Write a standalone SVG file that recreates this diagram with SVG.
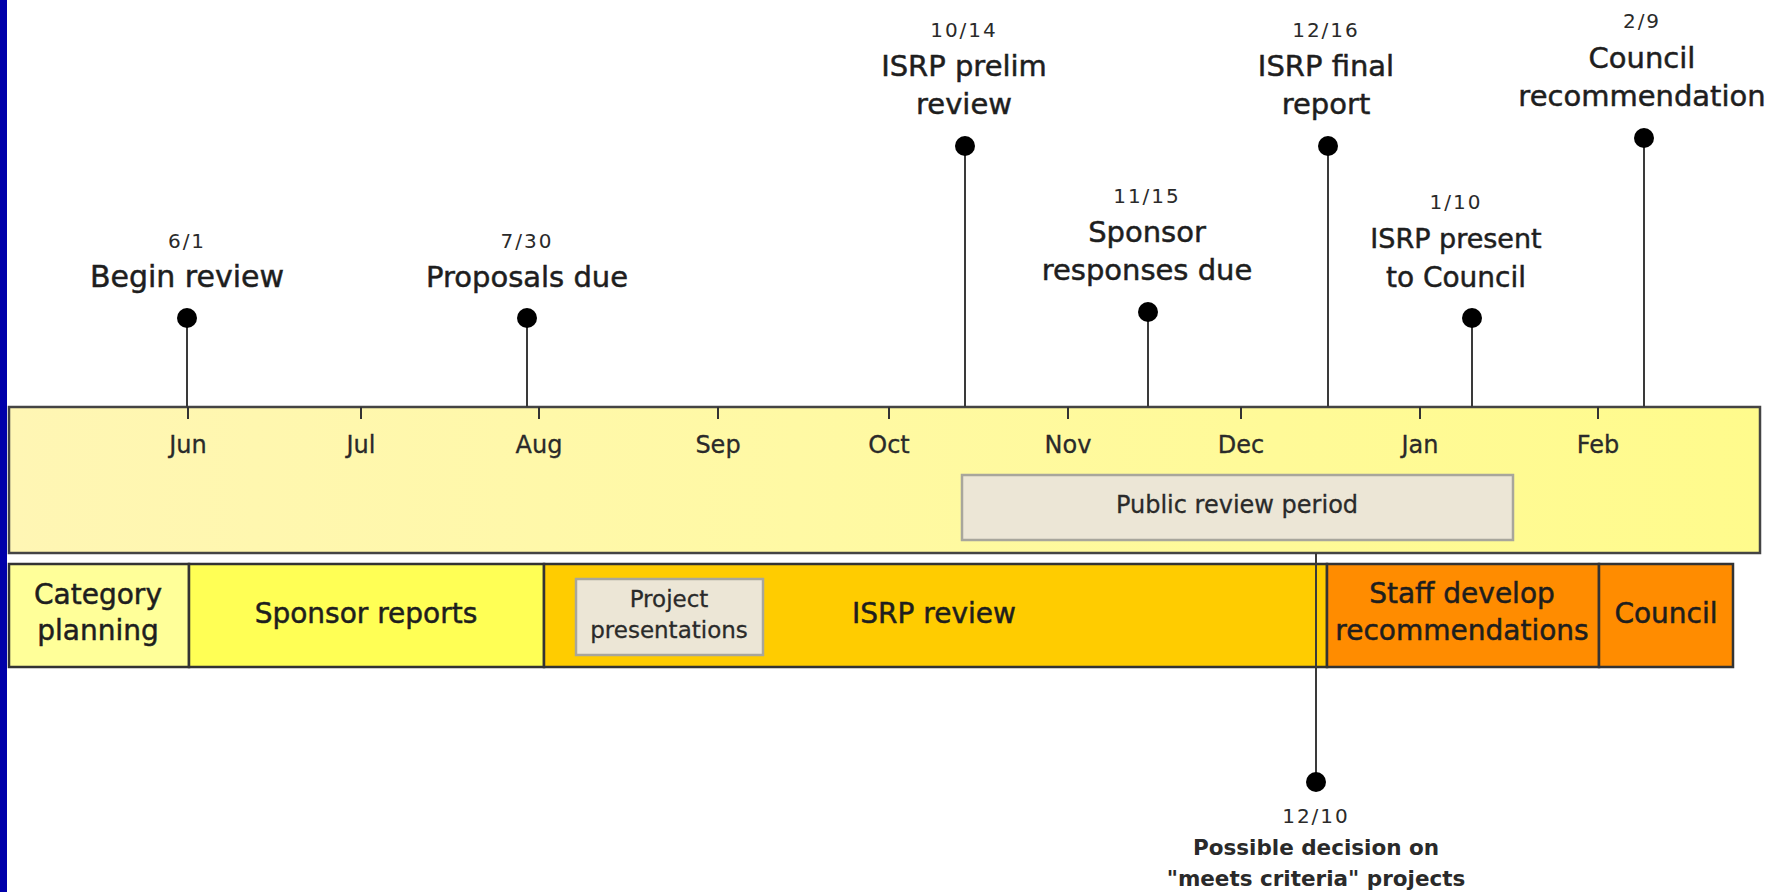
<svg xmlns="http://www.w3.org/2000/svg" width="1767" height="892" viewBox="0 0 1767 892">
<style>
  text { font-family: "DejaVu Sans", "Liberation Sans", sans-serif; fill: #1e1e1e; text-anchor: middle; }
  .date { font-size: 20px; letter-spacing: 2px; fill: #2a2a2a; }
  .big { font-size: 29px; stroke: #1e1e1e; stroke-width: 0.5px; }
  .month { font-size: 24px; fill: #2a2a2a; stroke: #2a2a2a; stroke-width: 0.3px; }
  .small { font-size: 24px; fill: #2a2a2a; stroke: #2a2a2a; stroke-width: 0.3px; }
  .bold { font-size: 21.5px; font-weight: bold; fill: #2a2a2a; }
  .stem { stroke: #3a3a3a; stroke-width: 2; fill: none; }
  .tick { stroke: #333; stroke-width: 2; }
  .dot { fill: #000; }
  .seg { stroke: #333; stroke-width: 2.5; }
  .note { fill: #ECE6D6; stroke: #A8A69C; stroke-width: 2.5; }
</style>
<defs>
  <linearGradient id="tl" x1="0" y1="0" x2="1" y2="0">
    <stop offset="0" stop-color="#FFF6B4"/>
    <stop offset="0.45" stop-color="#FFF9A4"/>
    <stop offset="1" stop-color="#FFFB8C"/>
  </linearGradient>
</defs>
<rect x="0" y="0" width="1767" height="892" fill="#FFFFFF"/>
<rect x="0" y="0" width="7" height="892" fill="#0000AA"/>

<g id="timeline">
  <rect x="9" y="407" width="1751" height="146" fill="url(#tl)" stroke="#444" stroke-width="2.5"/>
  <g id="ticks">
    <line class="tick" x1="188" y1="407" x2="188" y2="419"/>
    <line class="tick" x1="361" y1="407" x2="361" y2="419"/>
    <line class="tick" x1="539" y1="407" x2="539" y2="419"/>
    <line class="tick" x1="718" y1="407" x2="718" y2="419"/>
    <line class="tick" x1="889" y1="407" x2="889" y2="419"/>
    <line class="tick" x1="1068" y1="407" x2="1068" y2="419"/>
    <line class="tick" x1="1241" y1="407" x2="1241" y2="419"/>
    <line class="tick" x1="1420" y1="407" x2="1420" y2="419"/>
    <line class="tick" x1="1598" y1="407" x2="1598" y2="419"/>
  </g>
  <g id="months">
    <text class="month" x="188" y="453">Jun</text>
    <text class="month" x="361" y="453">Jul</text>
    <text class="month" x="539" y="453">Aug</text>
    <text class="month" x="718" y="453">Sep</text>
    <text class="month" x="889" y="453">Oct</text>
    <text class="month" x="1068" y="453">Nov</text>
    <text class="month" x="1241" y="453">Dec</text>
    <text class="month" x="1420" y="453">Jan</text>
    <text class="month" x="1598" y="453">Feb</text>
  </g>
</g>

<g id="public-review">
  <rect class="note" x="962" y="475" width="551" height="65"/>
  <text class="small" x="1237" y="513">Public review period</text>
</g>

<g id="phases">
  <g id="category-planning">
    <rect x="9" y="564" width="180" height="103" fill="#FFFF99" class="seg"/>
    <text class="big" x="98" y="604" style="font-size:28px">Category</text>
    <text class="big" x="98" y="640" style="font-size:28px">planning</text>
  </g>
  <g id="sponsor-reports">
    <rect x="189" y="564" width="355" height="103" fill="#FFFF55" class="seg"/>
    <text class="big" x="366" y="623" style="font-size:28px">Sponsor reports</text>
  </g>
  <g id="isrp-review">
    <rect x="544" y="564" width="783" height="103" fill="#FFCC00" class="seg"/>
    <text class="big" x="934" y="623" style="font-size:28px">ISRP review</text>
  </g>
  <g id="project-presentations">
    <rect class="note" x="576" y="579" width="187" height="76"/>
    <text class="small" x="669" y="607" style="font-size:23px">Project</text>
    <text class="small" x="669" y="638" style="font-size:23px">presentations</text>
  </g>
  <g id="staff-develop">
    <rect x="1327" y="564" width="272" height="103" fill="#FF8C00" class="seg"/>
    <text class="big" x="1462" y="603" style="font-size:28px">Staff develop</text>
    <text class="big" x="1462" y="640" style="font-size:28px">recommendations</text>
  </g>
  <g id="council">
    <rect x="1599" y="564" width="134" height="103" fill="#FF8C00" class="seg"/>
    <text class="big" x="1666" y="623" style="font-size:28px">Council</text>
  </g>
</g>

<g id="connectors">
  <line class="stem" x1="187" y1="318" x2="187" y2="407"/>
  <line class="stem" x1="527" y1="318" x2="527" y2="407"/>
  <line class="stem" x1="965" y1="146" x2="965" y2="407"/>
  <line class="stem" x1="1148" y1="312" x2="1148" y2="407"/>
  <line class="stem" x1="1328" y1="146" x2="1328" y2="407"/>
  <line class="stem" x1="1472" y1="318" x2="1472" y2="407"/>
  <line class="stem" x1="1644" y1="138" x2="1644" y2="407"/>
  <line class="stem" x1="1316" y1="553" x2="1316" y2="782"/>
</g>

<g id="m-begin-review">
  <circle class="dot" cx="187" cy="318" r="10"/>
  <text class="date" x="187" y="248">6/1</text>
  <text class="big" x="187" y="287" style="font-size:30px">Begin review</text>
</g>
<g id="m-proposals-due">
  <circle class="dot" cx="527" cy="318" r="10"/>
  <text class="date" x="527" y="248">7/30</text>
  <text class="big" x="527" y="287">Proposals due</text>
</g>
<g id="m-isrp-prelim">
  <circle class="dot" cx="965" cy="146" r="10"/>
  <text class="date" x="964" y="37">10/14</text>
  <text class="big" x="964" y="76">ISRP prelim</text>
  <text class="big" x="964" y="114">review</text>
</g>
<g id="m-sponsor-responses">
  <circle class="dot" cx="1148" cy="312" r="10"/>
  <text class="date" x="1147" y="203">11/15</text>
  <text class="big" x="1147" y="242">Sponsor</text>
  <text class="big" x="1147" y="280">responses due</text>
</g>
<g id="m-isrp-final">
  <circle class="dot" cx="1328" cy="146" r="10"/>
  <text class="date" x="1326" y="37">12/16</text>
  <text class="big" x="1326" y="76">ISRP final</text>
  <text class="big" x="1326" y="114">report</text>
</g>
<g id="m-isrp-present">
  <circle class="dot" cx="1472" cy="318" r="10"/>
  <text class="date" x="1456" y="209">1/10</text>
  <text class="big" x="1456" y="248" style="font-size:27px">ISRP present</text>
  <text class="big" x="1456" y="287" style="font-size:28px">to Council</text>
</g>
<g id="m-council-rec">
  <circle class="dot" cx="1644" cy="138" r="10"/>
  <text class="date" x="1642" y="28">2/9</text>
  <text class="big" x="1642" y="68">Council</text>
  <text class="big" x="1642" y="106">recommendation</text>
</g>
<g id="m-possible-decision">
  <circle class="dot" cx="1316" cy="782" r="10"/>
  <text class="date" x="1316" y="823">12/10</text>
  <text class="bold" x="1316" y="855">Possible decision on</text>
  <text class="bold" x="1316" y="886">"meets criteria" projects</text>
</g>
</svg>
